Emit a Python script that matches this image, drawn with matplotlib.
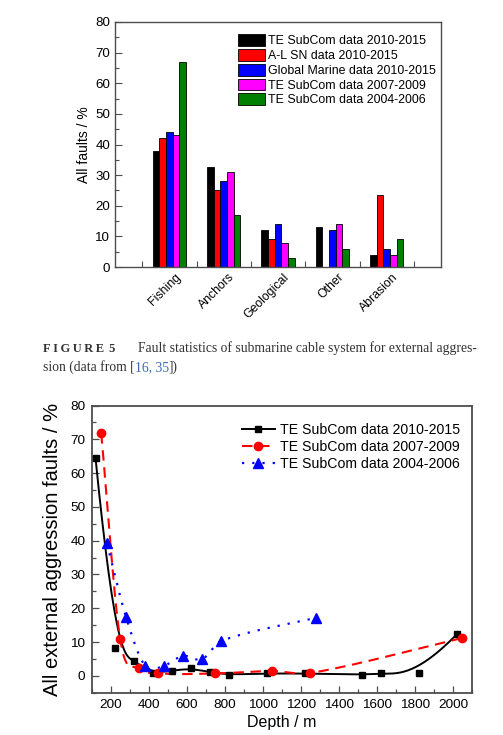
import numpy as np
import matplotlib
matplotlib.use('Agg')
import matplotlib.pyplot as plt
from matplotlib.ticker import MultipleLocator, FixedLocator
import matplotlib.transforms as mtransforms
from matplotlib.lines import Line2D

plt.rcParams['font.family'] = ['Liberation Sans', 'DejaVu Sans']

# ---------------- data: figure 5 (bar chart) ----------------
categories = ['Fishing', 'Anchors', 'Geological', 'Other', 'Abrasion']
bar_series_names = ['TE SubCom data 2010-2015', 'A-L SN data 2010-2015',
                    'Global Marine data 2010-2015', 'TE SubCom data 2007-2009',
                    'TE SubCom data 2004-2006']
te_2010_2015 = [38, 32.5, 12, 13, 4]
al_sn_2010_2015 = [42, 25, 9, 0, 23.5]
gm_2010_2015 = [44, 28, 14, 12, 6]
te_2007_2009 = [43, 31, 8, 14, 4]
te_2004_2006 = [67, 17, 3, 6, 9]
bar_colors = ['#000000', '#ff0000', '#0000ff', '#ff00ff', '#008000']

# ---------------- data: depth chart ----------------
line_series_names = ['TE SubCom data 2010-2015', 'TE SubCom data 2007-2009',
                     'TE SubCom data 2004-2006']
depth_a = [120, 220, 320, 420, 520, 620, 720, 820, 1020, 1220, 1520, 1620, 1820, 2020]
faults_a = [64.5, 8.2, 4.3, 0.8, 1.5, 2.2, 1.1, 0.3, 0.7, 0.7, 0.3, 0.7, 0.7, 12.3]
depth_b = [150, 250, 350, 450, 750, 1050, 1250, 2050]
faults_b = [71.8, 10.8, 2.2, 0.7, 0.7, 1.4, 0.8, 11.2]
depth_c = [180, 280, 380, 480, 580, 680, 780, 1280]
faults_c = [39.2, 17.5, 3.0, 3.0, 5.9, 4.9, 10.3, 17.2]


def bspline(px, py, n=500):
    """Clamped cubic B-spline using the data points as control points."""
    P = np.column_stack([px, py]).astype(float)
    k = 3
    m = len(P)
    knots = np.concatenate([np.zeros(k), np.arange(m - k + 1), np.full(k, m - k)]).astype(float)
    t = np.linspace(0, m - k, n)
    t[-1] = t[-1] - 1e-9
    N = np.array([(knots[j] <= t) & (t < knots[j + 1]) for j in range(len(knots) - 1)], float)
    for d in range(1, k + 1):
        newN = []
        for j in range(len(knots) - 1 - d):
            a = knots[j + d] - knots[j]
            b = knots[j + d + 1] - knots[j + 1]
            term = np.zeros_like(t)
            if a > 0:
                term += (t - knots[j]) / a * N[j]
            if b > 0:
                term += (knots[j + d + 1] - t) / b * N[j + 1]
            newN.append(term)
        N = np.array(newN)
    C = N.T @ P
    return C[:, 0], C[:, 1]


def hermite_spline(x, y, per=60):
    """Cubic Hermite curve through the points, slopes from neighbouring points."""
    x = np.asarray(x, float)
    y = np.asarray(y, float)
    n = len(x)
    m = np.zeros(n)
    m[0] = (y[1] - y[0]) / (x[1] - x[0])
    m[-1] = (y[-1] - y[-2]) / (x[-1] - x[-2])
    for i in range(1, n - 1):
        m[i] = (y[i + 1] - y[i - 1]) / (x[i + 1] - x[i - 1])
    xs_all, ys_all = [], []
    for i in range(n - 1):
        h = x[i + 1] - x[i]
        s = np.linspace(0, 1, per)
        h00 = 2 * s ** 3 - 3 * s ** 2 + 1
        h10 = s ** 3 - 2 * s ** 2 + s
        h01 = -2 * s ** 3 + 3 * s ** 2
        h11 = s ** 3 - s ** 2
        xs_all.append(x[i] + s * h)
        ys_all.append(h00 * y[i] + h10 * h * m[i] + h01 * y[i + 1] + h11 * h * m[i + 1])
    return np.concatenate(xs_all), np.concatenate(ys_all)


W, H = 503, 735
fig = plt.figure(figsize=(W / 100, H / 100), dpi=100)
spine_col = '#4d4d4d'

# ================= top bar chart =================
ax1 = fig.add_axes([115 / W, 1 - 267 / H, (441 - 115) / W, (267 - 22) / H])
xpos = np.arange(1, len(categories) + 1)
bw = 0.123
all_series = [te_2010_2015, al_sn_2010_2015, gm_2010_2015, te_2007_2009, te_2004_2006]
for i, (vals, col, name) in enumerate(zip(all_series, bar_colors, bar_series_names)):
    ax1.bar(xpos + (i - 2) * bw, vals, bw, color=col, edgecolor='black',
            linewidth=0.6, label=name, zorder=2)
ax1.set_xlim(0, 6)
ax1.set_ylim(0, 80)
ax1.yaxis.set_major_locator(MultipleLocator(10))
ax1.yaxis.set_minor_locator(MultipleLocator(5))
ax1.set_xticks(xpos)
ax1.set_xticklabels(categories, rotation=45, ha='right', va='top',
                    rotation_mode='anchor', fontsize=8.8)
ax1.xaxis.set_minor_locator(FixedLocator(np.arange(0.5, 6.0, 1.0)))
ax1.tick_params(axis='x', which='major', length=0, pad=3)
ax1.tick_params(axis='x', which='minor', direction='in', length=4, width=0.8, color=spine_col)
ax1.tick_params(axis='y', which='major', direction='in', length=5, width=0.8,
                labelsize=9.6, pad=3.5, color=spine_col)
ax1.tick_params(axis='y', which='minor', direction='in', length=3, width=0.8, color=spine_col)
off = mtransforms.ScaledTranslation(0.05, 0, fig.dpi_scale_trans)
for lab in ax1.get_xticklabels():
    lab.set_transform(lab.get_transform() + off)
for s in ax1.spines.values():
    s.set_color(spine_col)
    s.set_linewidth(1.0)
ax1.set_ylabel('All faults / %', fontsize=10, labelpad=3)
ax1.legend(loc='upper left', bbox_to_anchor=(0.378, 0.95), frameon=False,
           fontsize=8.9, borderpad=0, borderaxespad=0, handlelength=2.17,
           handleheight=1.08, labelspacing=0.14, handletextpad=0.27)

# ================= caption =================
serif = ['Liberation Serif', 'DejaVu Serif']
cap_col = '#333333'
cap_fs = 9.8
yb1 = 1 - 352 / H
yb2 = 1 - 371 / H
fig.text(43 / W, yb1, '\u2009'.join('FIGURE') + '\u2009\u20095', fontsize=9,
         fontweight='bold', family=serif, color=cap_col, va='baseline')
fig.text(138 / W, yb1, 'Fault statistics of submarine cable system for external aggres-',
         fontsize=cap_fs, family=serif, color=cap_col, va='baseline')
t3 = fig.text(43 / W, yb2, 'sion (data from [', fontsize=cap_fs, family=serif,
              color=cap_col, va='baseline')
t4 = fig.add_artist(matplotlib.text.Annotation(
    '16, 35', xy=(1, yb2), xycoords=(t3, 'figure fraction'),
    fontsize=cap_fs, family=serif, color='#3a6db5', va='baseline', ha='left'))
fig.add_artist(matplotlib.text.Annotation(
    '])', xy=(1, yb2), xycoords=(t4, 'figure fraction'),
    fontsize=cap_fs, family=serif, color=cap_col, va='baseline', ha='left'))

# ================= bottom line chart =================
ax2 = fig.add_axes([91.7 / W, 1 - 692.7 / H, (472 - 91.7) / W, (692.7 - 405.5) / H])
xa, ya = bspline(depth_a, faults_a)
ax2.plot(xa, ya, color='black', lw=1.4, zorder=3)
ax2.plot(depth_a, faults_a, ls='none', marker='s', ms=5, color='black', zorder=4)
xb, yb = hermite_spline(depth_b, faults_b)
ax2.plot(xb, yb, color='#ff0000', lw=1.5, ls=(0, (5, 3.2)), zorder=3)
ax2.plot(depth_b, faults_b, ls='none', marker='o', ms=6, color='#ff0000', zorder=4)
xc, yc = hermite_spline(depth_c, faults_c)
ax2.plot(xc, yc, color='#0000ff', lw=1.6, ls=(0, (1, 3.6)), zorder=3)
ax2.plot(depth_c, faults_c, ls='none', marker='^', ms=6.5, color='#0000ff', zorder=4)

ax2.set_xlim(100, 2100)
ax2.set_ylim(-5, 80)
ax2.xaxis.set_major_locator(MultipleLocator(200))
ax2.xaxis.set_minor_locator(MultipleLocator(100))
ax2.yaxis.set_major_locator(MultipleLocator(10))
ax2.yaxis.set_minor_locator(MultipleLocator(5))
ax2.tick_params(which='major', direction='in', length=5, width=0.9, labelsize=9.7,
                pad=4.5, color=spine_col)
ax2.tick_params(which='minor', direction='in', length=3, width=0.9, color=spine_col)
for s in ax2.spines.values():
    s.set_color(spine_col)
    s.set_linewidth(1.3)
ax2.set_xlabel('Depth / m', fontsize=11.5, labelpad=3)
ax2.set_ylabel('All external aggression faults / %', fontsize=14.5, labelpad=6)

handles = [
    Line2D([], [], color='black', lw=1.4, marker='s', ms=5),
    Line2D([], [], color='#ff0000', lw=1.5, ls=(0, (5, 3.2)), marker='o', ms=6),
    Line2D([], [], color='#0000ff', lw=1.6, ls=(0, (1, 3.6)), marker='^', ms=6.5),
]
ax2.legend(handles, line_series_names, loc='upper left', bbox_to_anchor=(0.394, 0.94),
           frameon=False, fontsize=10.2, borderpad=0, borderaxespad=0,
           handlelength=2.35, labelspacing=0.22, handletextpad=0.35)

fig.savefig('out.png', dpi=100)
